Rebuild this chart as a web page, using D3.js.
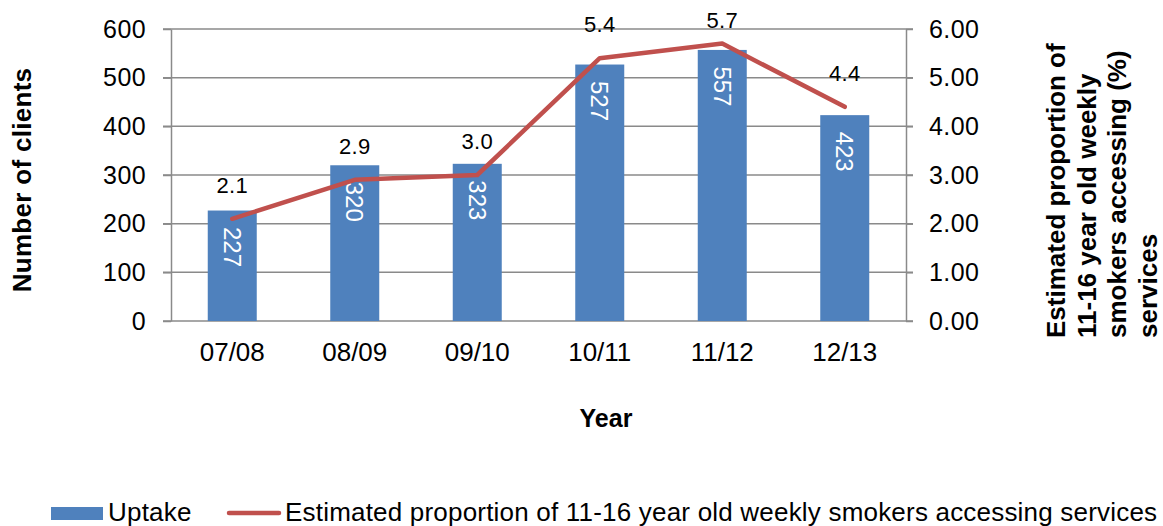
<!DOCTYPE html>
<html>
<head>
<meta charset="utf-8">
<script src="https://cdn.jsdelivr.net/npm/d3@7"></script>
<style>
  html, body { margin: 0; padding: 0; background: #fff; }
  svg { display: block; font-family: "Liberation Sans", Arial, sans-serif; }
</style>
</head>
<body>
<svg id="chart" width="1163" height="526"></svg>
<script>
// Smoking cessation service uptake and estimated reach, by year
const years = ["07/08", "08/09", "09/10", "10/11", "11/12", "12/13"];
const uptake = [227, 320, 323, 527, 557, 423];
const proportion = [2.1, 2.9, 3.0, 5.4, 5.7, 4.4];
const leftTicks = [0, 100, 200, 300, 400, 500, 600];
const rightTicks = [0, 1, 2, 3, 4, 5, 6];

const barColor = "#4F81BD";
const lineColor = "#C0504D";
const gridColor = "#8a8a8a";
const fontFamily = "'Liberation Sans', Arial, sans-serif";

const svg = d3.select("#chart");
const plot = { left: 171, right: 906, top: 29, bottom: 321 };

const x = d3.scaleBand()
  .domain(years)
  .range([plot.left, plot.right])
  .paddingInner(0.6)
  .paddingOuter(0.3);

const yLeft = d3.scaleLinear().domain([0, 600]).range([plot.bottom, plot.top]);
const yRight = d3.scaleLinear().domain([0, 6]).range([plot.bottom, plot.top]);

// horizontal gridlines (extend across the tick marks on both sides)
svg.append("g")
  .selectAll("line")
  .data(leftTicks)
  .join("line")
  .attr("x1", plot.left - 8)
  .attr("x2", plot.right + 7)
  .attr("y1", d => yLeft(d))
  .attr("y2", d => yLeft(d))
  .attr("stroke", gridColor)
  .attr("stroke-width", 1.5);

// left axis
const gLeft = svg.append("g")
  .attr("transform", `translate(${plot.left},0)`)
  .call(d3.axisLeft(yLeft).tickValues(leftTicks).tickSizeInner(8).tickSizeOuter(0).tickPadding(17));
gLeft.select(".domain").attr("stroke", gridColor).attr("stroke-width", 1.5);
gLeft.selectAll(".tick line").attr("stroke", gridColor).attr("stroke-width", 1.5);
gLeft.selectAll(".tick text")
  .attr("font-size", 25).attr("letter-spacing", 0.4).attr("fill", "#000")
  .attr("font-family", fontFamily);

// right axis
const gRight = svg.append("g")
  .attr("transform", `translate(${plot.right},0)`)
  .call(d3.axisRight(yRight).tickValues(rightTicks).tickFormat(d3.format(".2f"))
    .tickSizeInner(7).tickSizeOuter(0).tickPadding(16));
gRight.select(".domain").attr("stroke", gridColor).attr("stroke-width", 1.5);
gRight.selectAll(".tick line").attr("stroke", gridColor).attr("stroke-width", 1.5);
gRight.selectAll(".tick text")
  .attr("font-size", 25).attr("letter-spacing", 0.4).attr("fill", "#000")
  .attr("font-family", fontFamily);

// category axis
const gBottom = svg.append("g")
  .attr("transform", `translate(0,${plot.bottom})`)
  .call(d3.axisBottom(x).tickSize(0).tickPadding(22));
gBottom.select(".domain").remove();
gBottom.selectAll(".tick text")
  .attr("font-size", 26).attr("fill", "#000")
  .attr("font-family", fontFamily);

// bars
const barData = years.map((y, i) => ({ year: y, value: uptake[i] }));
svg.append("g")
  .selectAll("rect")
  .data(barData)
  .join("rect")
  .attr("x", d => x(d.year))
  .attr("width", x.bandwidth())
  .attr("y", d => yLeft(d.value))
  .attr("height", d => yLeft(0) - yLeft(d.value))
  .attr("fill", barColor);

// bar value labels, rotated, inside the top of each bar
svg.append("g")
  .selectAll("text")
  .data(barData)
  .join("text")
  .attr("transform", d => `translate(${x(d.year) + x.bandwidth() / 2},${yLeft(d.value) + 16.5}) rotate(90)`)
  .attr("dy", "0.35em")
  .attr("text-anchor", "start")
  .attr("font-size", 24)
  .attr("fill", "#fff")
  .text(d => d.value);

// proportion line
const pts = years.map((y, i) => ({ year: y, value: proportion[i] }));
const line = d3.line()
  .x(d => x(d.year) + x.bandwidth() / 2)
  .y(d => yRight(d.value));
svg.append("path")
  .datum(pts)
  .attr("d", line)
  .attr("fill", "none")
  .attr("stroke", lineColor)
  .attr("stroke-width", 4.5)
  .attr("stroke-linejoin", "round")
  .attr("stroke-linecap", "round");

// line value labels, kept inside the top of the chart area
svg.append("g")
  .selectAll("text")
  .data(pts)
  .join("text")
  .attr("x", d => x(d.year) + x.bandwidth() / 2)
  .attr("y", d => Math.max(yRight(d.value) - 26, 28))
  .attr("text-anchor", "middle")
  .attr("font-size", 22)
  .attr("letter-spacing", 0.3)
  .attr("fill", "#000")
  .text(d => d3.format(".1f")(d.value));

// axis titles
svg.append("text")
  .attr("transform", "translate(31,180) rotate(-90)")
  .attr("text-anchor", "middle")
  .attr("font-size", 26)
  .attr("letter-spacing", 0.3)
  .attr("font-weight", "bold")
  .text("Number of clients");

svg.append("text")
  .attr("x", 606)
  .attr("y", 427)
  .attr("text-anchor", "middle")
  .attr("font-size", 25)
  .attr("font-weight", "bold")
  .text("Year");

const rightTitle = [
  "Estimated proportion of",
  "11-16 year old weekly",
  "smokers accessing (%)",
  "services"
];
svg.append("g")
  .selectAll("text")
  .data(rightTitle)
  .join("text")
  .attr("transform", (d, i) => `translate(${1065 + i * 30.5},338) rotate(-90)`)
  .attr("text-anchor", "start")
  .attr("font-size", 26)
  .attr("font-weight", "bold")
  .text(d => d);

// legend
const legend = svg.append("g");
legend.append("rect")
  .attr("x", 51).attr("y", 507).attr("width", 52).attr("height", 13)
  .attr("fill", barColor);
legend.append("text")
  .attr("x", 108).attr("y", 521)
  .attr("font-size", 26)
  .attr("letter-spacing", 0.2)
  .text("Uptake");
legend.append("line")
  .attr("x1", 229).attr("x2", 279).attr("y1", 513).attr("y2", 513)
  .attr("stroke", lineColor).attr("stroke-width", 4.5).attr("stroke-linecap", "round");
legend.append("text")
  .attr("x", 285).attr("y", 521)
  .attr("font-size", 26)
  .attr("letter-spacing", 0.2)
  .text("Estimated proportion of 11-16 year old weekly smokers accessing services");
</script>
</body>
</html>
